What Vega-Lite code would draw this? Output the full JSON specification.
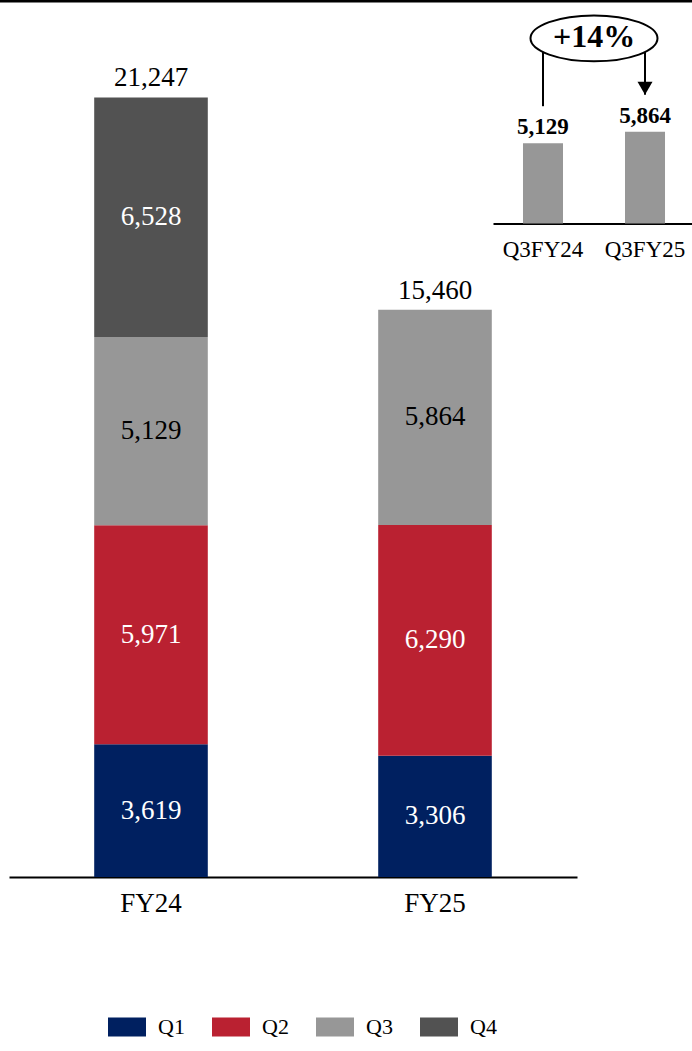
{
  "$schema": "https://vega.github.io/schema/vega-lite/v6.json",
  "width": 692,
  "height": 877,
  "autosize": {"type": "none"},
  "padding": {"left": 0, "top": 0, "right": 0, "bottom": 174},
  "config": {"view": {"stroke": null}, "font": "Liberation Serif", "text": {"font": "Liberation Serif"}},
  "resolve": {"scale": {"x": "independent", "y": "independent"}},
  "layer": [
    {
      "data": {"values": [
        {"year": "FY24", "q": "Q1", "value": 3619},
        {"year": "FY24", "q": "Q2", "value": 5971},
        {"year": "FY24", "q": "Q3", "value": 5129},
        {"year": "FY24", "q": "Q4", "value": 6528},
        {"year": "FY25", "q": "Q1", "value": 3306},
        {"year": "FY25", "q": "Q2", "value": 6290},
        {"year": "FY25", "q": "Q3", "value": 5864}
      ]},
      "layer": [
        {
          "mark": {"type": "bar"},
          "encoding": {
            "x": {"field": "year", "type": "nominal",
              "scale": {"type": "band", "domain": ["FY24", "FY25"], "range": [9, 577], "paddingInner": 0.6, "paddingOuter": 0.3},
              "axis": {"title": null, "orient": "bottom", "domainColor": "black", "domainWidth": 2, "ticks": false, "labelFontSize": 27, "labelFont": "Liberation Serif", "labelColor": "black", "labelPadding": 13, "labelAngle": 0, "grid": false}},
            "y": {"field": "value", "type": "quantitative", "stack": "zero",
              "scale": {"domain": [0, 23904], "nice": false, "zero": true}, "axis": null},
            "color": {"field": "q", "type": "nominal",
              "scale": {"domain": ["Q1", "Q2", "Q3", "Q4"], "range": ["#002060", "#BA2131", "#979797", "#525252"]},
              "legend": {"title": null, "orient": "none", "legendX": 108, "legendY": 1008, "direction": "horizontal",
                "symbolType": "M-1,-0.5H1V0.5H-1Z", "symbolSize": 1444, "symbolStrokeWidth": 0,
                "labelFontSize": 22, "labelFont": "Liberation Serif", "labelColor": "black", "labelOffset": 12, "columnPadding": 27}},
            "order": {"field": "q", "type": "nominal", "sort": "ascending"}
          }
        },
        {
          "transform": [
            {"stack": "value", "groupby": ["year"], "sort": [{"field": "q", "order": "ascending"}], "as": ["v0", "v1"]},
            {"calculate": "(datum.v0 + datum.v1) / 2", "as": "mid"}
          ],
          "mark": {"type": "text", "fontSize": 27, "baseline": "middle", "align": "center"},
          "encoding": {
            "x": {"field": "year", "type": "nominal",
              "scale": {"type": "band", "domain": ["FY24", "FY25"], "range": [9, 577], "paddingInner": 0.6, "paddingOuter": 0.3},
              "axis": {"title": null, "orient": "bottom", "domainColor": "black", "domainWidth": 2, "ticks": false, "labelFontSize": 27, "labelFont": "Liberation Serif", "labelColor": "black", "labelPadding": 13, "labelAngle": 0, "grid": false}},
            "y": {"field": "mid", "type": "quantitative", "scale": {"domain": [0, 23904], "nice": false, "zero": true}, "axis": null},
            "text": {"field": "value", "type": "quantitative", "format": ","},
            "color": {"condition": {"test": "datum.q === 'Q3'", "value": "black"}, "value": "white"}
          }
        },
        {
          "transform": [
            {"aggregate": [{"op": "sum", "field": "value", "as": "total"}], "groupby": ["year"]}
          ],
          "mark": {"type": "text", "fontSize": 27, "baseline": "alphabetic", "align": "center", "dy": -11, "color": "black"},
          "encoding": {
            "x": {"field": "year", "type": "nominal",
              "scale": {"type": "band", "domain": ["FY24", "FY25"], "range": [9, 577], "paddingInner": 0.6, "paddingOuter": 0.3},
              "axis": {"title": null, "orient": "bottom", "domainColor": "black", "domainWidth": 2, "ticks": false, "labelFontSize": 27, "labelFont": "Liberation Serif", "labelColor": "black", "labelPadding": 13, "labelAngle": 0, "grid": false}},
            "y": {"field": "total", "type": "quantitative", "scale": {"domain": [0, 23904], "nice": false, "zero": true}, "axis": null},
            "text": {"field": "total", "type": "quantitative", "format": ","}
          }
        },
        {
          "data": {"values": [{"edge": "top"}]},
          "mark": {"type": "rule", "color": "black", "strokeWidth": 5},
          "encoding": {
            "y": {"datum": 23904, "type": "quantitative", "scale": {"domain": [0, 23904], "nice": false, "zero": true}, "axis": null}
          }
        }
      ]
    },
    {
      "data": {"values": [
        {"period": "Q3FY24", "value": 5129},
        {"period": "Q3FY25", "value": 5864}
      ]},
      "encoding": {
        "x": {"field": "period", "type": "nominal",
          "scale": {"type": "band", "domain": ["Q3FY24", "+14%", "Q3FY25"], "range": [493, 695], "paddingInner": 0.2157, "paddingOuter": 0.588},
          "axis": {"orient": "bottom", "offset": -653.5, "values": ["Q3FY24", "Q3FY25"], "title": null, "domainColor": "black", "domainWidth": 2, "ticks": false, "labelFontSize": 23, "labelFont": "Liberation Serif", "labelColor": "black", "labelPadding": 15, "labelAngle": 0, "grid": false}}
      },
      "layer": [
        {
          "mark": {"type": "bar", "color": "#979797"},
          "encoding": {
            "y": {"field": "value", "type": "quantitative", "scale": {"domain": [0, 5864], "range": [223.5, 131.7], "nice": false, "zero": true}, "axis": null}
          }
        },
        {
          "mark": {"type": "text", "fontSize": 23, "fontWeight": "bold", "baseline": "alphabetic", "align": "center", "dy": -9, "color": "black"},
          "encoding": {
            "y": {"field": "value", "type": "quantitative", "scale": {"domain": [0, 5864], "range": [223.5, 131.7], "nice": false, "zero": true}, "axis": null},
            "text": {"field": "value", "type": "quantitative", "format": ","}
          }
        },
        {
          "mark": {"type": "rule", "color": "black", "strokeWidth": 2, "yOffset": -37},
          "encoding": {
            "y": {"field": "value", "type": "quantitative", "scale": {"domain": [0, 5864], "range": [223.5, 131.7], "nice": false, "zero": true}, "axis": null},
            "y2": {"datum": 11826}
          }
        },
        {
          "transform": [{"filter": "datum.period === 'Q3FY25'"}],
          "mark": {"type": "point", "shape": "triangle-down", "size": 225, "filled": true, "color": "black", "opacity": 1, "yOffset": -43.5},
          "encoding": {
            "y": {"field": "value", "type": "quantitative", "scale": {"domain": [0, 5864], "range": [223.5, 131.7], "nice": false, "zero": true}, "axis": null}
          }
        },
        {
          "data": {"values": [{"period": "+14%", "label": "+14%"}]},
          "mark": {"type": "point", "shape": "M-1,0C-1,-0.2 -0.552,-0.362 0,-0.362C0.552,-0.362 1,-0.2 1,0C1,0.2 0.552,0.362 0,0.362C-0.552,0.362 -1,0.2 -1,0Z", "size": 16129, "filled": true, "fill": "white", "stroke": "black", "strokeWidth": 2, "opacity": 1},
          "encoding": {
            "y": {"datum": 11826, "type": "quantitative", "scale": {"domain": [0, 5864], "range": [223.5, 131.7], "nice": false, "zero": true}, "axis": null}
          }
        },
        {
          "data": {"values": [{"period": "+14%", "label": "+14%"}]},
          "mark": {"type": "text", "fontSize": 32, "fontWeight": "bold", "baseline": "middle", "align": "center", "color": "black", "dy": -1},
          "encoding": {
            "y": {"datum": 11826, "type": "quantitative", "scale": {"domain": [0, 5864], "range": [223.5, 131.7], "nice": false, "zero": true}, "axis": null},
            "text": {"field": "label", "type": "nominal"}
          }
        }
      ]
    }
  ]
}
